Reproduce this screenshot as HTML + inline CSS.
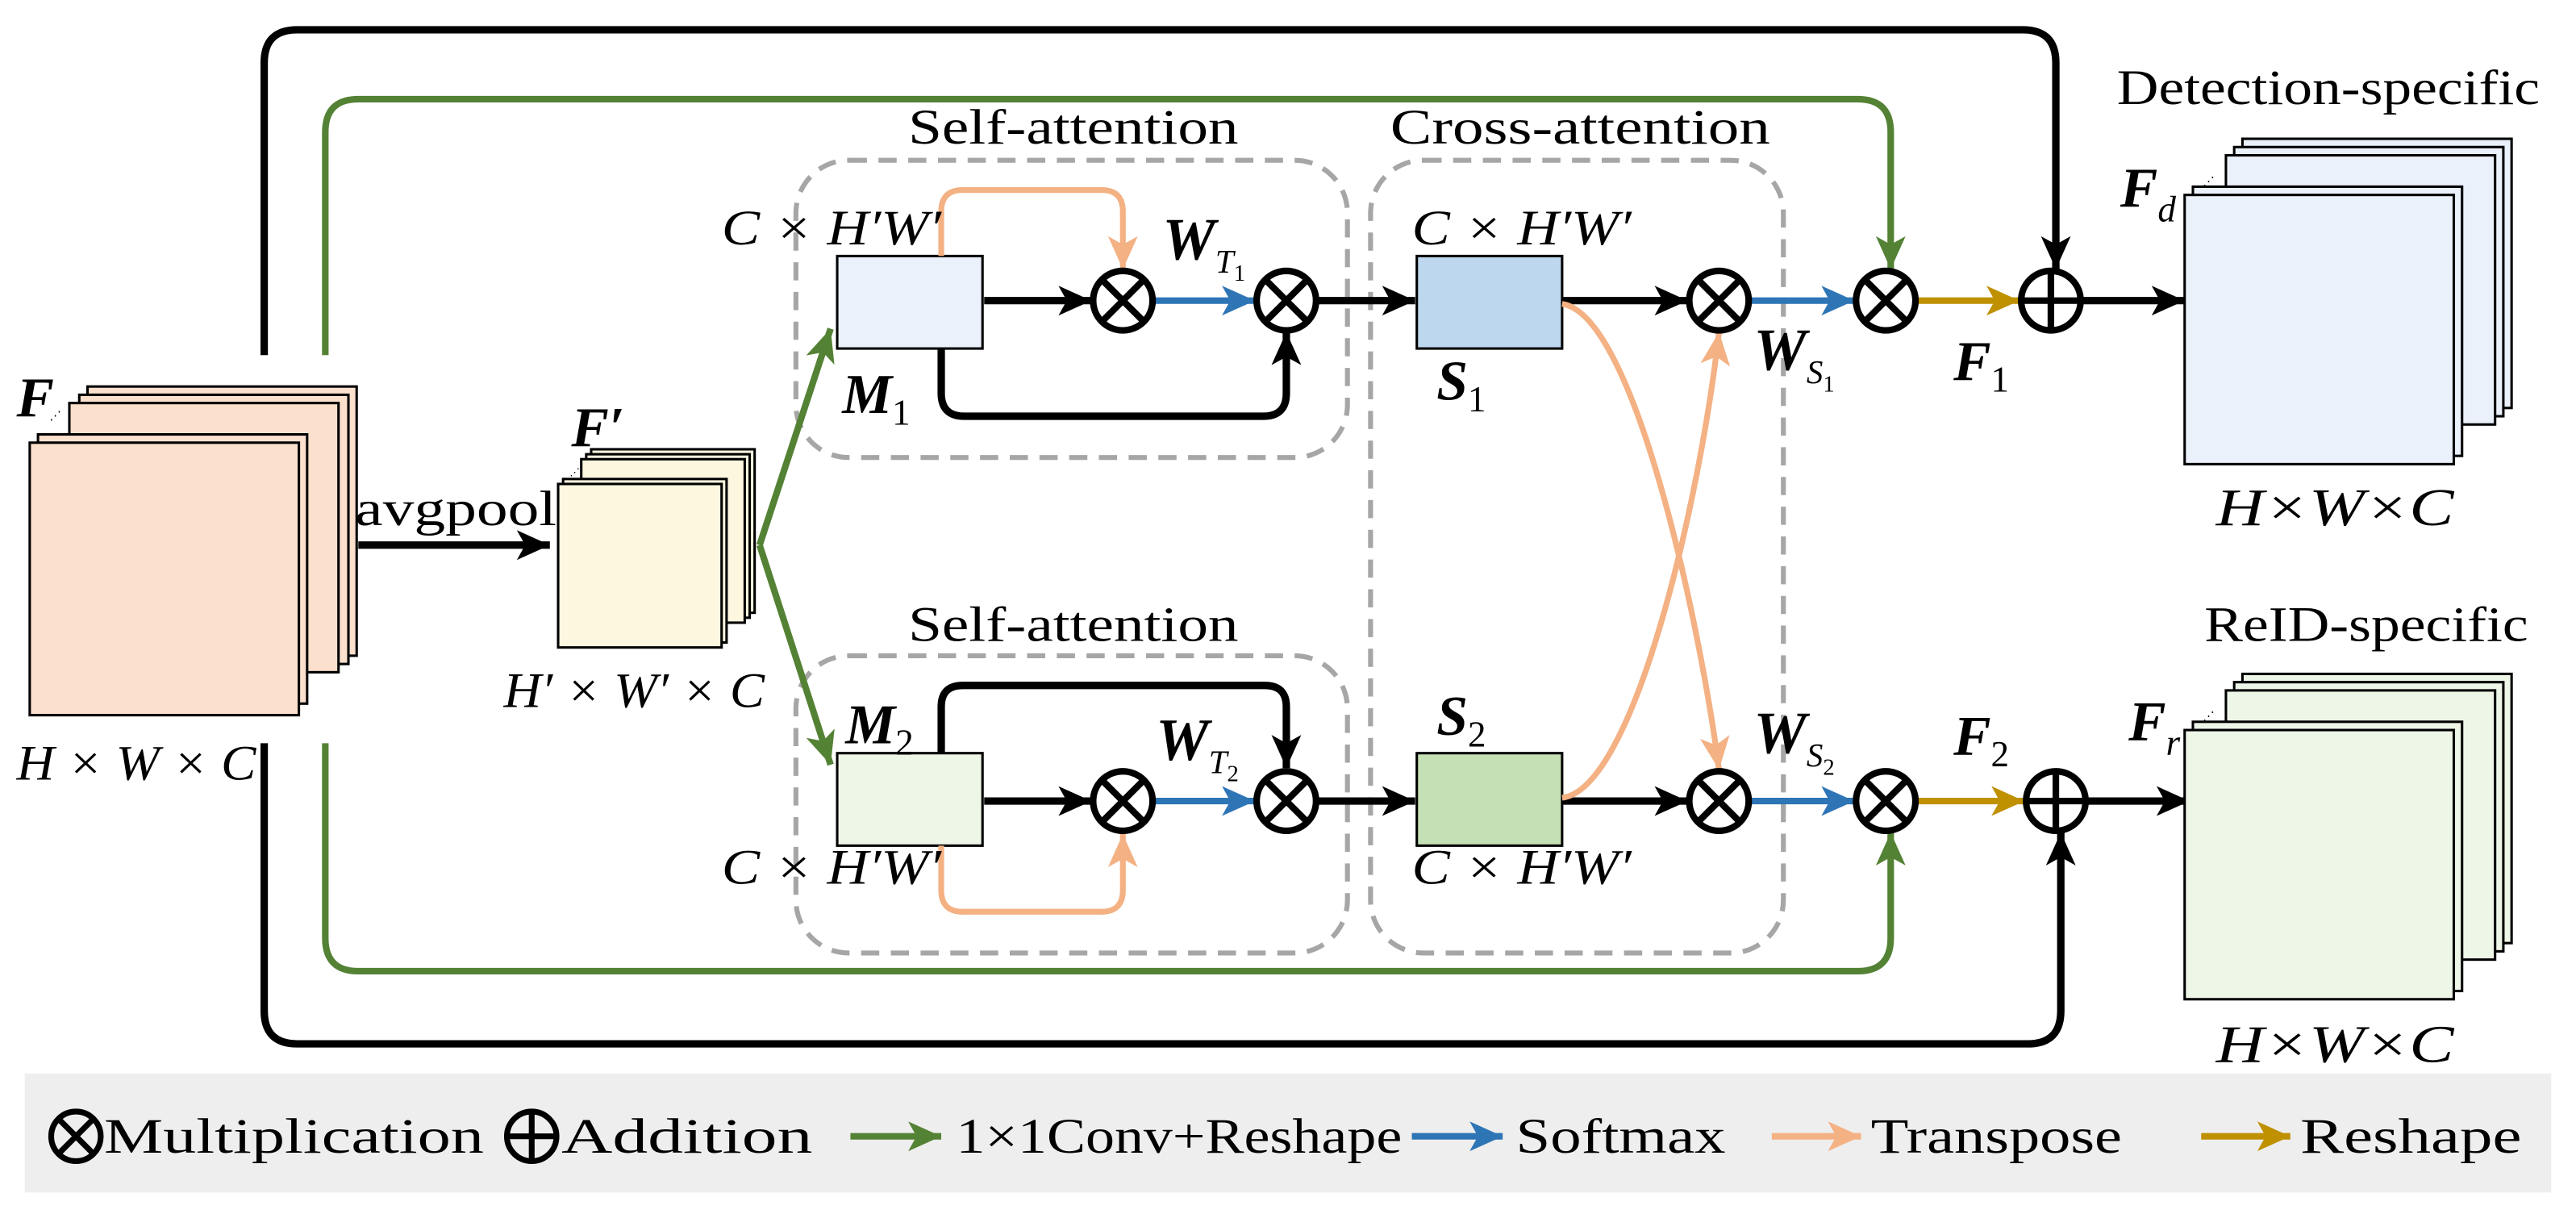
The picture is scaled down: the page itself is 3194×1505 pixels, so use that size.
<!DOCTYPE html>
<html><head><meta charset="utf-8"><style>
html,body{margin:0;padding:0;background:#fff}
svg{display:block}
text{font-family:"Liberation Serif",serif;fill:#000}
.it{font-style:italic}
.bi{font-style:italic;font-weight:bold}
</style></head><body>
<svg width="3194" height="1505" viewBox="0 0 1560 735" xmlns="http://www.w3.org/2000/svg">
<defs>
<marker id="ak" markerUnits="userSpaceOnUse" markerWidth="22" markerHeight="20" refX="20" refY="9" orient="auto"><path d="M0,0 L20,9 L0,18 L5,9 z" fill="#000"/></marker>
<marker id="ag" markerUnits="userSpaceOnUse" markerWidth="22" markerHeight="20" refX="20" refY="9" orient="auto"><path d="M0,0 L20,9 L0,18 L5,9 z" fill="#548235"/></marker>
<marker id="ab" markerUnits="userSpaceOnUse" markerWidth="22" markerHeight="20" refX="20" refY="9" orient="auto"><path d="M0,0 L20,9 L0,18 L5,9 z" fill="#2e75b6"/></marker>
<marker id="ao" markerUnits="userSpaceOnUse" markerWidth="22" markerHeight="20" refX="20" refY="9" orient="auto"><path d="M0,0 L20,9 L0,18 L5,9 z" fill="#f4b183"/></marker>
<marker id="ay" markerUnits="userSpaceOnUse" markerWidth="22" markerHeight="20" refX="20" refY="9" orient="auto"><path d="M0,0 L20,9 L0,18 L5,9 z" fill="#bf9000"/></marker>
</defs>

<g fill="none" stroke-width="4.5" stroke-linejoin="round">
<path d="M160,215 V38 Q160,18 180,18 H1225 Q1245,18 1245,38 V163" stroke="#000" marker-end="url(#ak)"/>
<path d="M197,215 V80 Q197,60 217,60 H1125 Q1145,60 1145,80 V163" stroke="#548235" stroke-width="4" marker-end="url(#ag)"/>
<path d="M160,450 V612 Q160,632 180,632 H1228 Q1248,632 1248,612 V504" stroke="#000" marker-end="url(#ak)"/>
<path d="M197,450 V568 Q197,588 217,588 H1125 Q1145,588 1145,568 V504" stroke="#548235" stroke-width="4" marker-end="url(#ag)"/>
</g>

<g fill="none" stroke="#a6a6a6" stroke-width="3" stroke-dasharray="11,7">
<rect x="482" y="97" width="334" height="180" rx="32"/>
<rect x="482" y="397" width="334" height="180" rx="32"/>
<rect x="830" y="97" width="250" height="480" rx="32"/>
</g>
<text x="650" y="87" font-size="30" text-anchor="middle" textLength="200" lengthAdjust="spacingAndGlyphs">Self-attention</text>
<text x="650" y="388" font-size="30" text-anchor="middle" textLength="200" lengthAdjust="spacingAndGlyphs">Self-attention</text>
<text x="957" y="87" font-size="30" text-anchor="middle" textLength="230" lengthAdjust="spacingAndGlyphs">Cross-attention</text>

<g stroke="#000" stroke-width="1.5" fill="#fbe0ce">
<rect x="53" y="234" width="163" height="163"/>
<rect x="48" y="239" width="163" height="163"/>
<rect x="42" y="244" width="163" height="163"/>
<rect x="23" y="263" width="163" height="163"/>
<rect x="18" y="268" width="163" height="165"/>
</g>
<text x="30" y="254" font-size="7" >⋰</text>
<text x="10" y="252" font-size="34" class="bi">F</text>
<text x="10" y="472" font-size="30" class="it" textLength="145" lengthAdjust="spacingAndGlyphs">H × W × C</text>

<line x1="217" y1="330" x2="333" y2="330" stroke="#000" stroke-width="4.5" marker-end="url(#ak)"/>
<text x="215" y="318" font-size="30" textLength="122" lengthAdjust="spacingAndGlyphs">avgpool</text>

<g stroke="#000" stroke-width="1.5" fill="#fef7e0">
<rect x="358" y="272" width="99" height="99"/>
<rect x="355" y="275" width="99" height="99"/>
<rect x="352" y="278" width="99" height="99"/>
<rect x="341" y="290" width="99" height="99"/>
<rect x="338" y="293" width="99" height="99"/>
</g>
<text x="345" y="288" font-size="6">⋰</text>
<text x="346" y="270" font-size="34" class="bi">F′</text>
<text x="305" y="428" font-size="30" class="it" textLength="158" lengthAdjust="spacingAndGlyphs">H′ × W′ × C</text>

<path d="M460,330 L503,199" stroke="#548235" stroke-width="4" fill="none" marker-end="url(#ag)"/>
<path d="M460,330 L503,463" stroke="#548235" stroke-width="4" fill="none" marker-end="url(#ag)"/>

<rect x="507" y="155" width="88" height="56" fill="#eaf1fb" stroke="#000" stroke-width="1.5"/>
<rect x="507" y="456" width="88" height="56" fill="#eef6e8" stroke="#000" stroke-width="1.5"/>
<rect x="858" y="155" width="88" height="56" fill="#bdd7ee" stroke="#000" stroke-width="1.5"/>
<rect x="858" y="456" width="88" height="56" fill="#c5e0b4" stroke="#000" stroke-width="1.5"/>

<g fill="none" stroke-width="4.5" stroke-linejoin="round">
<path d="M570,155 V128 Q570,115 583,115 H667 Q680,115 680,128 V163" stroke="#f4b183" stroke-width="3.5" marker-end="url(#ao)"/>
<path d="M570,211 V238 Q570,252 584,252 H765 Q779,252 779,238 V201" stroke="#000" marker-end="url(#ak)"/>
<line x1="596" y1="182" x2="661" y2="182" stroke="#000" marker-end="url(#ak)"/>
<line x1="698" y1="182" x2="760" y2="182" stroke="#2e75b6" stroke-width="4" marker-end="url(#ab)"/>
<line x1="797" y1="182" x2="857" y2="182" stroke="#000" marker-end="url(#ak)"/>
<line x1="946" y1="182" x2="1022" y2="182" stroke="#000" marker-end="url(#ak)"/>
<line x1="1059" y1="182" x2="1123" y2="182" stroke="#2e75b6" stroke-width="4" marker-end="url(#ab)"/>
<line x1="1160" y1="182" x2="1223" y2="182" stroke="#bf9000" stroke-width="4" marker-end="url(#ay)"/>
<line x1="1260" y1="182" x2="1323" y2="182" stroke="#000" marker-end="url(#ak)"/>

<path d="M570,456 V428 Q570,415 583,415 H766 Q779,415 779,428 V465" stroke="#000" marker-end="url(#ak)"/>
<path d="M570,512 V539 Q570,552 583,552 H667 Q680,552 680,539 V505" stroke="#f4b183" stroke-width="3.5" marker-end="url(#ao)"/>
<line x1="596" y1="485" x2="661" y2="485" stroke="#000" marker-end="url(#ak)"/>
<line x1="698" y1="485" x2="760" y2="485" stroke="#2e75b6" stroke-width="4" marker-end="url(#ab)"/>
<line x1="797" y1="485" x2="857" y2="485" stroke="#000" marker-end="url(#ak)"/>
<line x1="946" y1="485" x2="1022" y2="485" stroke="#000" marker-end="url(#ak)"/>
<line x1="1059" y1="485" x2="1123" y2="485" stroke="#2e75b6" stroke-width="4" marker-end="url(#ab)"/>
<line x1="1160" y1="485" x2="1226" y2="485" stroke="#bf9000" stroke-width="4" marker-end="url(#ay)"/>
<line x1="1263" y1="485" x2="1326" y2="485" stroke="#000" marker-end="url(#ak)"/>

<path d="M946,184 C990,190 1030,380 1041,466" stroke="#f4b183" stroke-width="3.5" marker-end="url(#ao)"/>
<path d="M946,483 C990,478 1030,300 1041,201" stroke="#f4b183" stroke-width="3.5" marker-end="url(#ao)"/>
</g>

<g fill="#fff" stroke="#000" stroke-width="4">
<g transform="translate(680,182)"><circle r="18"/><path d="M-12.7,-12.7 L12.7,12.7 M12.7,-12.7 L-12.7,12.7"/></g>
<g transform="translate(779,182)"><circle r="18"/><path d="M-12.7,-12.7 L12.7,12.7 M12.7,-12.7 L-12.7,12.7"/></g>
<g transform="translate(1041,182)"><circle r="18"/><path d="M-12.7,-12.7 L12.7,12.7 M12.7,-12.7 L-12.7,12.7"/></g>
<g transform="translate(1142,182)"><circle r="18"/><path d="M-12.7,-12.7 L12.7,12.7 M12.7,-12.7 L-12.7,12.7"/></g>
<g transform="translate(1242,182)"><circle r="18"/><path d="M-18,0 H18 M0,-18 V18"/></g>
<g transform="translate(680,485)"><circle r="18"/><path d="M-12.7,-12.7 L12.7,12.7 M12.7,-12.7 L-12.7,12.7"/></g>
<g transform="translate(779,485)"><circle r="18"/><path d="M-12.7,-12.7 L12.7,12.7 M12.7,-12.7 L-12.7,12.7"/></g>
<g transform="translate(1041,485)"><circle r="18"/><path d="M-12.7,-12.7 L12.7,12.7 M12.7,-12.7 L-12.7,12.7"/></g>
<g transform="translate(1142,485)"><circle r="18"/><path d="M-12.7,-12.7 L12.7,12.7 M12.7,-12.7 L-12.7,12.7"/></g>
<g transform="translate(1245,485)"><circle r="18"/><path d="M-18,0 H18 M0,-18 V18"/></g>
</g>

<g font-size="30" class="it">
<text x="437" y="148" textLength="133" lengthAdjust="spacingAndGlyphs">C × H′W′</text>
<text x="855" y="148" textLength="133" lengthAdjust="spacingAndGlyphs">C × H′W′</text>
<text x="437" y="535" textLength="133" lengthAdjust="spacingAndGlyphs">C × H′W′</text>
<text x="855" y="535" textLength="133" lengthAdjust="spacingAndGlyphs">C × H′W′</text>
</g>
<text x="510" y="250" font-size="34" class="bi">M<tspan font-size="22" font-weight="normal" font-style="normal" dy="7">1</tspan></text>
<text x="512" y="450" font-size="34" class="bi">M<tspan font-size="22" font-weight="normal" font-style="normal" dy="7">2</tspan></text>
<text x="870" y="242" font-size="34" class="bi">S<tspan font-size="22" font-weight="normal" font-style="normal" dy="7">1</tspan></text>
<text x="870" y="445" font-size="34" class="bi">S<tspan font-size="22" font-weight="normal" font-style="normal" dy="7">2</tspan></text>
<text x="704" y="157" font-size="36" class="bi">W<tspan font-size="20" font-weight="normal" dy="8">T</tspan><tspan font-size="14" font-weight="normal" font-style="normal" dy="5">1</tspan></text>
<text x="700" y="460" font-size="36" class="bi">W<tspan font-size="20" font-weight="normal" dy="8">T</tspan><tspan font-size="14" font-weight="normal" font-style="normal" dy="5">2</tspan></text>
<text x="1062" y="224" font-size="36" class="bi">W<tspan font-size="20" font-weight="normal" dy="8">S</tspan><tspan font-size="14" font-weight="normal" font-style="normal" dy="5">1</tspan></text>
<text x="1062" y="456" font-size="36" class="bi">W<tspan font-size="20" font-weight="normal" dy="8">S</tspan><tspan font-size="14" font-weight="normal" font-style="normal" dy="5">2</tspan></text>
<text x="1183" y="230" font-size="34" class="bi">F<tspan font-size="22" font-weight="normal" font-style="normal" dy="7">1</tspan></text>
<text x="1183" y="457" font-size="34" class="bi">F<tspan font-size="22" font-weight="normal" font-style="normal" dy="7">2</tspan></text>

<g stroke="#000" stroke-width="1.5" fill="#eaf1fb">
<rect x="1358" y="84" width="163" height="163"/>
<rect x="1353" y="89" width="163" height="163"/>
<rect x="1348" y="94" width="163" height="163"/>
<rect x="1328" y="113" width="163" height="163"/>
<rect x="1323" y="118" width="163" height="163"/>
</g>
<g stroke="#000" stroke-width="1.5" fill="#eef6e8">
<rect x="1358" y="408" width="163" height="163"/>
<rect x="1353" y="413" width="163" height="163"/>
<rect x="1348" y="418" width="163" height="163"/>
<rect x="1328" y="437" width="163" height="163"/>
<rect x="1323" y="442" width="163" height="163"/>
</g>
<text x="1334" y="112" font-size="7">⋰</text>
<text x="1334" y="436" font-size="7">⋰</text>
<text x="1284" y="125" font-size="34" class="bi">F<tspan font-size="22" font-weight="normal" dy="9">d</tspan></text>
<text x="1289" y="448" font-size="34" class="bi">F<tspan font-size="22" font-weight="normal" dy="9">r</tspan></text>
<text x="1410" y="63" font-size="30" text-anchor="middle" textLength="256" lengthAdjust="spacingAndGlyphs">Detection-specific</text>
<text x="1433" y="388" font-size="30" text-anchor="middle" textLength="196" lengthAdjust="spacingAndGlyphs">ReID-specific</text>
<text x="1342" y="318" font-size="32" class="it" textLength="144" lengthAdjust="spacingAndGlyphs">H×W×C</text>
<text x="1342" y="643" font-size="32" class="it" textLength="144" lengthAdjust="spacingAndGlyphs">H×W×C</text>

<rect x="15" y="650" width="1530" height="72" fill="#eeeeee"/>
<g fill="none" stroke="#000" stroke-width="3.5">
<g transform="translate(46,688)"><circle r="15"/><path d="M-10.6,-10.6 L10.6,10.6 M10.6,-10.6 L-10.6,10.6"/></g>
<g transform="translate(322,688)"><circle r="15"/><path d="M-15,0 H15 M0,-15 V15"/></g>
</g>
<line x1="515" y1="688" x2="570" y2="688" stroke="#548235" stroke-width="4" marker-end="url(#ag)"/>
<line x1="855" y1="688" x2="910" y2="688" stroke="#2e75b6" stroke-width="4" marker-end="url(#ab)"/>
<line x1="1073" y1="688" x2="1127" y2="688" stroke="#f4b183" stroke-width="4" marker-end="url(#ao)"/>
<line x1="1333" y1="688" x2="1387" y2="688" stroke="#bf9000" stroke-width="4" marker-end="url(#ay)"/>
<g font-size="30">
<text x="63" y="698" textLength="230" lengthAdjust="spacingAndGlyphs">Multiplication</text>
<text x="340" y="698" textLength="152" lengthAdjust="spacingAndGlyphs">Addition</text>
<text x="579" y="698" textLength="270" lengthAdjust="spacingAndGlyphs">1×1Conv+Reshape</text>
<text x="918" y="698" textLength="127" lengthAdjust="spacingAndGlyphs">Softmax</text>
<text x="1133" y="698" textLength="152" lengthAdjust="spacingAndGlyphs">Transpose</text>
<text x="1393" y="698" textLength="134" lengthAdjust="spacingAndGlyphs">Reshape</text>
</g>
</svg>
</body></html>
